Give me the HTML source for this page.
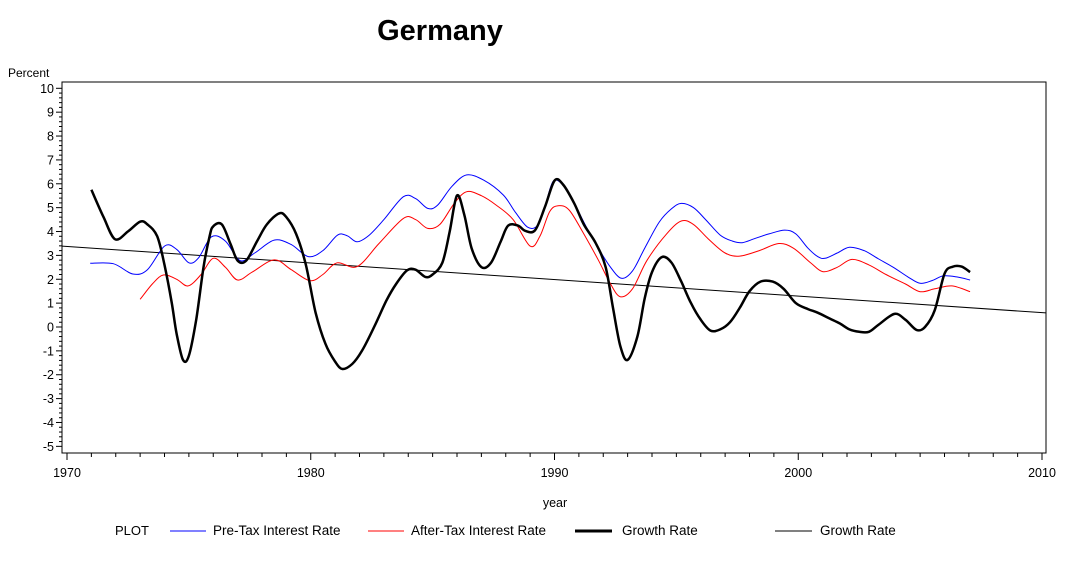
<!DOCTYPE html>
<html><head><meta charset="utf-8"><style>
body{margin:0;background:#fff;}
svg text{font-family:"Liberation Sans",Arial,sans-serif;}
</style></head><body>
<svg id="chart" width="1072" height="559" xmlns="http://www.w3.org/2000/svg">
<text x="440" y="40" font-size="29" font-weight="bold" text-anchor="middle">Germany</text>
<text x="8" y="77" font-size="12">Percent</text>
<text x="555" y="507" font-size="12.5" text-anchor="middle">year</text>
<rect x="62" y="82" width="984" height="371" fill="none" stroke="#000" stroke-width="1"/>
<g id="axes"></g>
<g id="series"></g>
<g>
<text x="115" y="535" font-size="13">PLOT</text>
<line x1="170" y1="531" x2="206" y2="531" stroke="#0000ff" stroke-width="1"/>
<text x="213" y="535" font-size="13.5">Pre-Tax Interest Rate</text>
<line x1="368" y1="531" x2="404" y2="531" stroke="#ff0000" stroke-width="1"/>
<text x="411" y="535" font-size="13.5">After-Tax Interest Rate</text>
<line x1="575" y1="531" x2="612" y2="531" stroke="#000" stroke-width="3"/>
<text x="622" y="535" font-size="13.5">Growth Rate</text>
<line x1="775" y1="531" x2="812" y2="531" stroke="#000" stroke-width="1"/>
<text x="820" y="535" font-size="13.5">Growth Rate</text>
</g>
</svg>
<script>
const yTicks=[-5,-4,-3,-2,-1,0,1,2,3,4,5,6,7,8,9,10];
const xTicks=[1970,1980,1990,2000,2010];
const preYears=[1970.95,1971.9,1972.7,1973.3,1974.0,1974.5,1975.0,1975.4,1975.93,1976.5,1977.1,1977.7,1978.5,1979.2,1979.9,1980.5,1981.1,1981.5,1981.9,1982.4,1983.0,1983.8,1984.3,1984.8,1985.2,1985.8,1986.4,1987.1,1987.9,1988.4,1988.9,1989.3,1989.6,1989.94,1990.35,1990.8,1991.3,1991.8,1992.3,1992.75,1993.2,1993.7,1994.3,1994.8,1995.2,1995.7,1996.2,1996.8,1997.3,1997.7,1998.2,1998.8,1999.45,1999.9,2000.4,2000.8,2001.1,2001.6,2002.1,2002.7,2003.3,2003.9,2004.5,2005.0,2005.5,2005.95,2006.5,2007.05];
const preValues=[2.67,2.65,2.22,2.4,3.39,3.25,2.69,2.9,3.78,3.6,2.78,3.1,3.64,3.45,2.95,3.2,3.85,3.82,3.57,3.85,4.5,5.46,5.38,4.97,5.1,5.9,6.37,6.15,5.53,4.8,4.18,4.25,5.0,6.09,5.95,5.2,4.2,3.3,2.5,2.04,2.35,3.3,4.4,4.95,5.18,5.0,4.5,3.85,3.6,3.53,3.7,3.9,4.06,3.9,3.3,2.95,2.88,3.1,3.34,3.2,2.85,2.5,2.1,1.83,1.95,2.14,2.1,1.97];
const afterYears=[1973.0,1973.5,1973.95,1974.5,1974.97,1975.5,1976.0,1976.5,1977.0,1977.6,1978.5,1979.2,1979.97,1980.5,1981.08,1981.9,1982.8,1983.8,1984.3,1984.8,1985.3,1985.9,1986.4,1987.0,1987.6,1988.3,1989.0,1989.4,1989.8,1990.15,1990.6,1991.2,1991.8,1992.3,1992.7,1993.2,1993.8,1994.6,1995.2,1995.7,1996.3,1997.0,1997.6,1998.4,1999.2,1999.8,2000.5,2001.0,2001.6,2002.2,2002.9,2003.6,2004.4,2005.0,2005.6,2006.3,2007.05];
const afterValues=[1.16,1.8,2.18,2.0,1.72,2.2,2.88,2.5,1.97,2.3,2.81,2.4,1.94,2.2,2.69,2.53,3.5,4.55,4.5,4.13,4.3,5.2,5.67,5.5,5.11,4.5,3.39,3.8,4.83,5.08,4.9,3.9,2.8,1.8,1.27,1.6,2.8,3.9,4.44,4.3,3.7,3.1,2.97,3.2,3.5,3.3,2.7,2.32,2.5,2.83,2.6,2.2,1.8,1.48,1.6,1.72,1.48];
const growthYears=[1971.0,1971.5,1971.97,1972.5,1973.0,1973.3,1973.7,1974.0,1974.3,1974.5,1974.76,1975.0,1975.3,1975.6,1975.85,1976.0,1976.35,1976.7,1977.0,1977.35,1977.8,1978.2,1978.7,1979.0,1979.4,1979.8,1980.2,1980.6,1981.0,1981.3,1981.7,1982.1,1982.6,1983.1,1983.5,1983.95,1984.3,1984.7,1985.0,1985.4,1985.7,1986.0,1986.3,1986.6,1987.0,1987.4,1987.8,1988.1,1988.5,1988.8,1989.2,1989.6,1990.0,1990.35,1990.8,1991.2,1991.7,1992.1,1992.4,1992.7,1993.0,1993.4,1993.7,1994.0,1994.4,1994.8,1995.2,1995.6,1996.0,1996.4,1996.8,1997.2,1997.6,1998.0,1998.45,1998.95,1999.4,1999.9,2000.4,2000.8,2001.3,2001.7,2002.1,2002.5,2002.9,2003.3,2003.95,2004.4,2004.85,2005.2,2005.6,2006.0,2006.35,2006.7,2007.05];
const growthValues=[5.75,4.6,3.68,4.0,4.41,4.3,3.8,2.6,1.0,-0.3,-1.38,-1.2,0.3,2.5,3.8,4.22,4.3,3.5,2.78,2.78,3.6,4.3,4.76,4.6,3.9,2.6,0.6,-0.7,-1.45,-1.76,-1.55,-1.0,0.0,1.1,1.8,2.37,2.4,2.1,2.2,2.7,4.0,5.51,4.7,3.3,2.51,2.7,3.6,4.25,4.25,4.03,4.05,5.0,6.13,5.97,5.2,4.3,3.5,2.5,0.8,-0.8,-1.38,-0.4,1.2,2.3,2.93,2.7,1.9,1.0,0.3,-0.15,-0.1,0.2,0.8,1.5,1.9,1.9,1.6,1.0,0.75,0.6,0.35,0.15,-0.1,-0.2,-0.2,0.1,0.55,0.3,-0.12,0.0,0.7,2.23,2.53,2.53,2.3];
const trendYears=[1969.8,2010.16];
const trendValues=[3.39,0.59];

const X0=67, PX=24.375, Y0=327, PY=23.87;
function xs(yr){return X0+(yr-1970)*PX;}
function ys(v){return Y0-v*PY;}
const NS='http://www.w3.org/2000/svg';
const axes=document.getElementById('axes'), series=document.getElementById('series');
function mk(tag,attrs,parent){const e=document.createElementNS(NS,tag);for(const k in attrs)e.setAttribute(k,attrs[k]);parent.appendChild(e);return e;}
yTicks.forEach(v=>{
  const l=mk('line',{x1:56,x2:62,y1:ys(v),y2:ys(v),stroke:'#000'},axes);
  
  
  const t=mk('text',{x:54,y:ys(v)+4.5,'font-size':12.5,'text-anchor':'end'},axes);
  t.textContent=v;
  
  
  if(v<10){for(let k=1;k<5;k++){const m=mk('line',{x1:59,x2:62,y1:ys(v+k/5),y2:ys(v+k/5),stroke:'#000'},axes);
    
    }}
});
for(let yr=1970;yr<=2010;yr++){
  const major=xTicks.includes(yr);
  const l=mk('line',{x1:xs(yr),x2:xs(yr),y1:453,y2:major?460:457,stroke:'#000'},axes);
  
  
}
xTicks.forEach(yr=>{
  const t=mk('text',{x:xs(yr),y:477,'font-size':12.5,'text-anchor':'middle'},axes);
  t.textContent=yr;
  
  
});
function line(years,vals,color,w,name,smooth){
  const P=years.map((y,i)=>[xs(y),ys(vals[i])]);
  let d='M'+P[0][0].toFixed(1)+' '+P[0][1].toFixed(1);
  for(let i=0;i<P.length-1;i++){
    if(!smooth){d+=' L'+P[i+1][0].toFixed(1)+' '+P[i+1][1].toFixed(1);continue;}
    const p0=P[Math.max(i-1,0)],p1=P[i],p2=P[i+1],p3=P[Math.min(i+2,P.length-1)];
    const c1=[p1[0]+(p2[0]-p0[0])/6,p1[1]+(p2[1]-p0[1])/6];
    const c2=[p2[0]-(p3[0]-p1[0])/6,p2[1]-(p3[1]-p1[1])/6];
    d+=' C'+c1.map(n=>n.toFixed(1)).join(' ')+' '+c2.map(n=>n.toFixed(1)).join(' ')+' '+p2[0].toFixed(1)+' '+p2[1].toFixed(1);
  }
  const p=mk('path',{d:d,fill:'none',stroke:color,'stroke-width':w,'stroke-linejoin':'round'},series);
  
  
}
line(trendYears,trendValues,'#000',1,'growth-trend-line',false);
line(preYears,preValues,'#0000ff',1,'pretax-interest-line',true);
line(afterYears,afterValues,'#ff0000',1,'aftertax-interest-line',true);
line(growthYears,growthValues,'#000',2.5,'growth-rate-line',true);
</script>
</body></html>
